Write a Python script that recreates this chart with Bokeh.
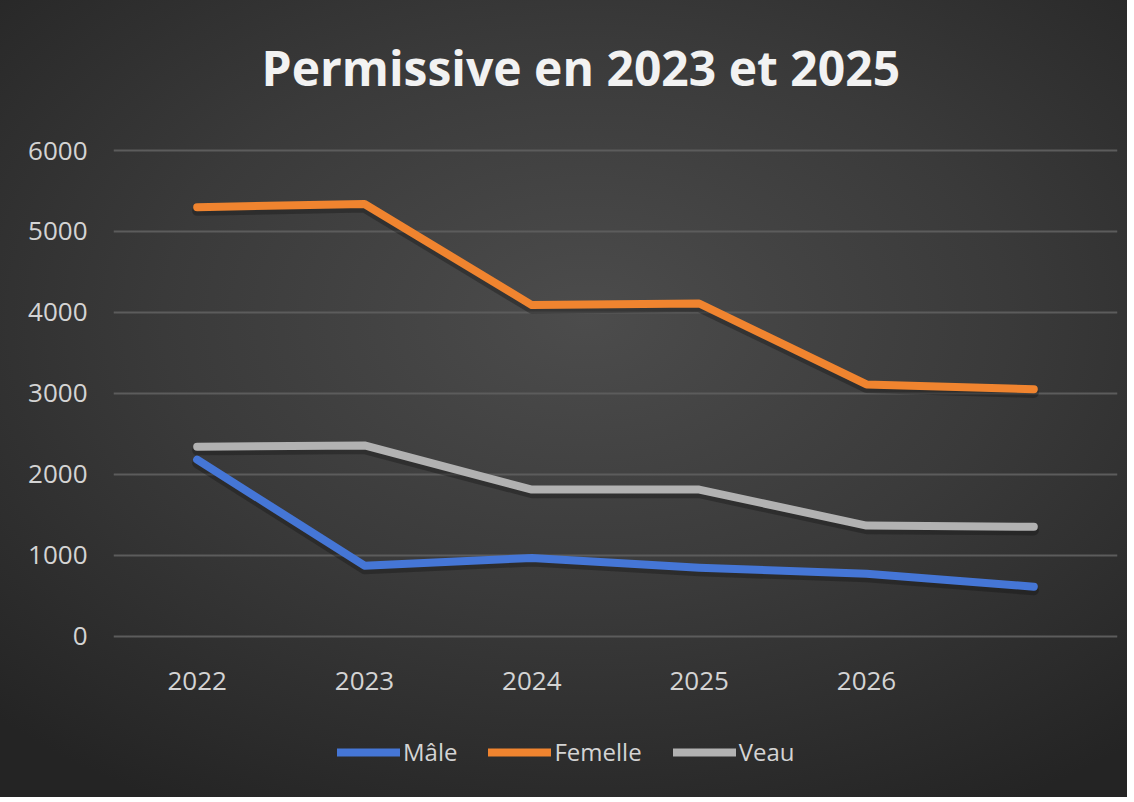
from bokeh.plotting import figure
from bokeh.models import Legend, LegendItem, Title, FactorRange, Range1d, FixedTicker
from bokeh.embed import file_html
from bokeh.resources import INLINE

years = ["2022", "2023", "2024", "2025", "2026", ""]
male = [2180, 870, 965, 845, 770, 610]
femelle = [5300, 5340, 4090, 4110, 3110, 3050]
veau = [2340, 2355, 1810, 1810, 1365, 1350]
y_ticks = [0, 1000, 2000, 3000, 4000, 5000, 6000]

FONT = "Open Sans"
TXT = "#d4d4d4"

# frame spans the whole lower area (incl. legend zone); 0..6000 occupies 484px
p = figure(width=1127, height=797, x_range=FactorRange(*years), y_range=Range1d(-1934, 6248),
           output_backend="svg", toolbar_location=None,
           min_border_left=113, min_border_right=10, min_border_top=130, min_border_bottom=5)
p.styles = {"background-image": "radial-gradient(ellipse 75% 70% at 52% 40%, #4c4c4c 0%, #3a3a3a 50%, #242424 100%)"}
p.background_fill_alpha = 0
p.border_fill_alpha = 0
p.outline_line_color = None

t = Title(text="Permissive en 2023 et 2025", align="left", text_font=FONT,
          text_font_size="48px", text_font_style="bold", text_color="#f2f2f2", standoff=61, offset=148)
p.add_layout(t, "above")

p.yaxis.ticker = FixedTicker(ticks=y_ticks)
p.xaxis.fixed_location = 0
for ax in (p.xaxis[0], p.yaxis[0]):
    ax.axis_line_color = None
    ax.major_tick_line_color = None
    ax.minor_tick_line_color = None
    ax.major_label_text_color = TXT
    ax.major_label_text_font = FONT
    ax.major_label_text_font_size = "26px"
p.yaxis.major_label_standoff = 20
p.xaxis.major_label_standoff = 30
p.xgrid.grid_line_color = None
p.ygrid.grid_line_color = "#5c5c5c"
p.ygrid.grid_line_width = 2

# soft shadows under lines
for ys in (male, femelle, veau):
    p.line(years, [v - 45 for v in ys], line_width=10, line_color="#111111", line_alpha=0.35,
           line_cap="round", line_join="round")

r1 = p.line(years, male, line_width=8, line_color="#4576d6", line_cap="round", line_join="round")
r2 = p.line(years, femelle, line_width=8, line_color="#f0842f", line_cap="round", line_join="round")
r3 = p.line(years, veau, line_width=8, line_color="#b2b2b2", line_cap="round", line_join="round")

legend = Legend(items=[LegendItem(label="Mâle", renderers=[r1]),
                       LegendItem(label="Femelle", renderers=[r2]),
                       LegendItem(label="Veau", renderers=[r3])],
                orientation="horizontal", location=(224, 24),
                glyph_width=63, glyph_height=14, label_standoff=3, spacing=31,
                padding=0, margin=0, label_text_font=FONT, label_text_font_size="24px",
                label_text_color=TXT, background_fill_alpha=0, border_line_alpha=0)
p.add_layout(legend)

open("out.html", "w").write(file_html(p, INLINE))
